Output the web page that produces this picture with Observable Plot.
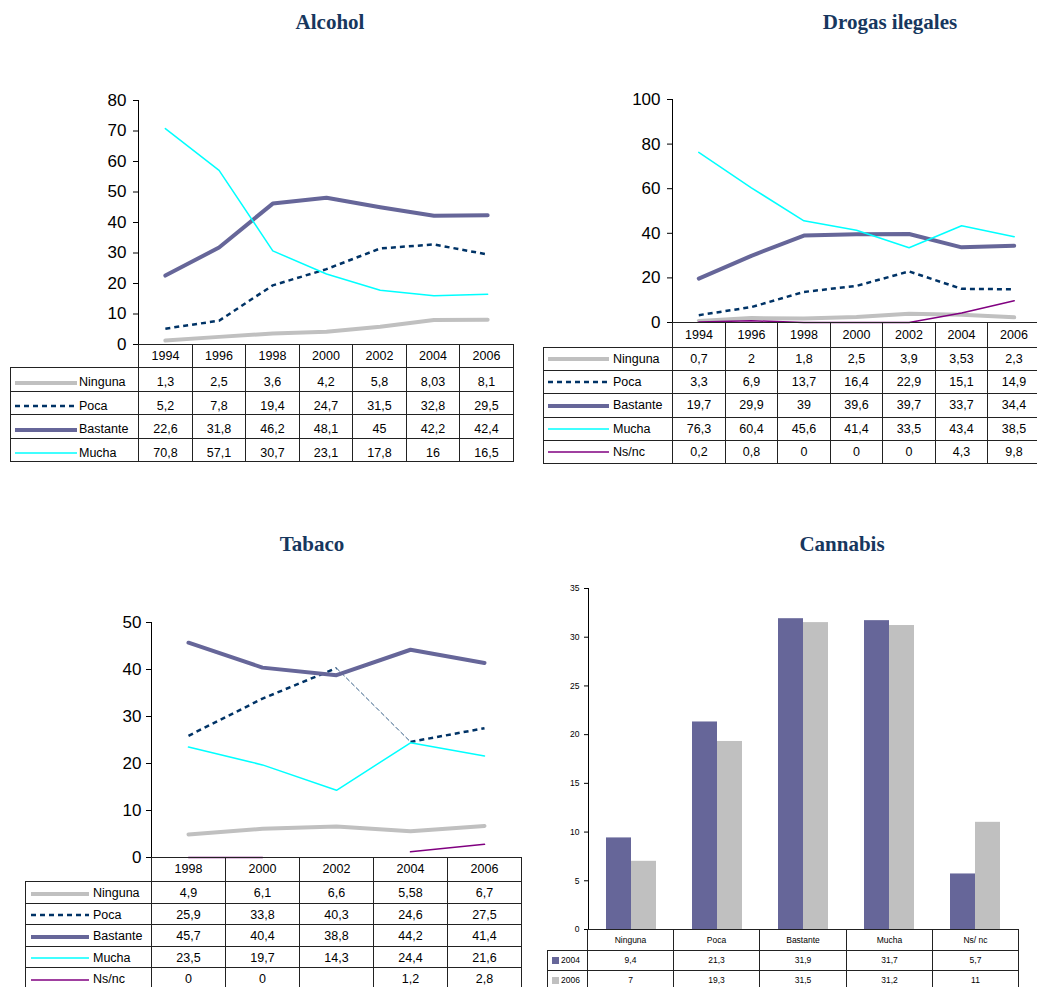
<!DOCTYPE html>
<html><head><meta charset="utf-8">
<script src="https://cdn.jsdelivr.net/npm/d3@7"></script>
<script src="https://cdn.jsdelivr.net/npm/@observablehq/plot@0.6"></script>
<style>
html,body{margin:0;padding:0;background:#fff;}
#root{position:relative;width:1037px;height:987px;overflow:hidden;background:#fff;font-family:'Liberation Sans',Arial,sans-serif;}
.title{position:absolute;width:300px;text-align:center;font-family:'Liberation Serif','Times New Roman',serif;font-weight:bold;font-size:21px;color:#17375e;line-height:24px;}
.cell{position:absolute;box-sizing:border-box;border:1px solid #222;display:flex;align-items:center;justify-content:center;color:#000;white-space:nowrap;line-height:1;}
</style></head><body><div id="root"></div>
<script>
// ---------- DATA ----------
const titles = ["Alcohol", "Drogas ilegales", "Tabaco", "Cannabis"];

const alcYears = [1994, 1996, 1998, 2000, 2002, 2004, 2006];
const alcNinguna = [1.3, 2.5, 3.6, 4.2, 5.8, 8.03, 8.1];
const alcPoca = [5.2, 7.8, 19.4, 24.7, 31.5, 32.8, 29.5];
const alcBastante = [22.6, 31.8, 46.2, 48.1, 45, 42.2, 42.4];
const alcMucha = [70.8, 57.1, 30.7, 23.1, 17.8, 16, 16.5];
const alcTicks = [0, 10, 20, 30, 40, 50, 60, 70, 80];

const drgYears = [1994, 1996, 1998, 2000, 2002, 2004, 2006];
const drgNinguna = [0.7, 2, 1.8, 2.5, 3.9, 3.53, 2.3];
const drgPoca = [3.3, 6.9, 13.7, 16.4, 22.9, 15.1, 14.9];
const drgBastante = [19.7, 29.9, 39, 39.6, 39.7, 33.7, 34.4];
const drgMucha = [76.3, 60.4, 45.6, 41.4, 33.5, 43.4, 38.5];
const drgNsnc = [0.2, 0.8, 0, 0, 0, 4.3, 9.8];
const drgTicks = [0, 20, 40, 60, 80, 100];

const tabYears = [1998, 2000, 2002, 2004, 2006];
const tabNinguna = [4.9, 6.1, 6.6, 5.58, 6.7];
const tabPoca = [25.9, 33.8, 40.3, 24.6, 27.5];
const tabBastante = [45.7, 40.4, 38.8, 44.2, 41.4];
const tabMucha = [23.5, 19.7, 14.3, 24.4, 21.6];
const tabNsnc = [0, 0, null, 1.2, 2.8];
const tabTicks = [0, 10, 20, 30, 40, 50];

const cannCats = ["Ninguna", "Poca", "Bastante", "Mucha", "Ns/ nc"];
const cannYears = ["2004", "2006"];
const cann2004 = [9.4, 21.3, 31.9, 31.7, 5.7];
const cann2006 = [7, 19.3, 31.5, 31.2, 11];
const cannTicks = [0, 5, 10, 15, 20, 25, 30, 35];

// ---------- STYLES ----------
const lineStyles = {
  "Ninguna": {stroke: "#c0c0c0", strokeWidth: 4},
  "Poca": {stroke: "#003366", strokeWidth: 2.5, strokeDasharray: "5,4", strokeLinecap: "butt"},
  "Bastante": {stroke: "#666699", strokeWidth: 4},
  "Mucha": {stroke: "#00ffff", strokeWidth: 1.5},
  "Ns/nc": {stroke: "#800080", strokeWidth: 1.5}
};
const barColors = ["#666699", "#c0c0c0"];

const root = document.getElementById("root");

function addTitle(text, cx, cy) {
  const d = document.createElement("div");
  d.className = "title";
  d.textContent = text;
  d.style.left = (cx - 150) + "px";
  d.style.top = (cy - 12) + "px";
  root.appendChild(d);
}

function place(svg, left, top) {
  svg.style.position = "absolute";
  svg.style.left = left + "px";
  svg.style.top = top + "px";
  svg.style.maxWidth = "none";
  root.appendChild(svg);
}

function toRows(years, values) {
  return years.map((year, i) => ({year, value: values[i] == null ? NaN : values[i]}));
}

function linePanel(o) {
  const marks = [Plot.ruleY([0], {stroke: "#222", strokeWidth: 1.2})];
  for (const s of o.series) {
    const st = lineStyles[s.name];
    const data = toRows(o.years, s.values);
    if (s.thin) {
      const [a, b] = s.thin;
      marks.push(Plot.line(data.filter(d => d.year <= a), {x: "year", y: "value", ...st}));
      marks.push(Plot.line(data.filter(d => d.year >= b), {x: "year", y: "value", ...st}));
      marks.push(Plot.line(data.filter(d => d.year >= a && d.year <= b), {x: "year", y: "value", stroke: st.stroke, strokeWidth: 0.8, strokeDasharray: "4,3"}));
    } else {
      marks.push(Plot.line(data, {x: "year", y: "value", ...st}));
    }
  }
  const svg = Plot.plot({
    width: o.width, height: o.height,
    marginLeft: o.mL, marginRight: o.mR, marginTop: o.mT, marginBottom: o.mB,
    x: {type: "linear", domain: [o.years[0] - 1, o.years[o.years.length - 1] + 1], axis: null},
    y: {domain: [0, o.ticks[o.ticks.length - 1]], ticks: o.ticks, tickSize: 5, tickPadding: o.tickPadding, line: true, label: null, tickFormat: d => String(d)},
    style: {fontFamily: "'Liberation Sans', Arial, sans-serif", fontSize: "17px", color: "#000", background: "transparent", overflow: "visible"},
    marks
  });
  place(svg, o.left, o.top);
}

const fmt = v => v == null ? "" : String(v).replace(".", ",");

function cell(x, y, w, h, text, fs, dy) {
  const d = document.createElement("div");
  d.className = "cell";
  d.style.left = x + "px"; d.style.top = y + "px";
  d.style.width = (w + 1) + "px"; d.style.height = (h + 1) + "px";
  d.style.fontSize = fs + "px";
  if (text !== "") {
    const s = document.createElement("span");
    s.style.position = "relative";
    s.style.top = (dy || 0) + "px";
    s.textContent = text;
    d.appendChild(s);
  }
  root.appendChild(d);
  return d;
}

function swatchLine(name, w) {
  const st = lineStyles[name];
  return `<svg width="${w}" height="10" style="position:absolute;left:0;top:-5px;overflow:visible"><line x1="0" x2="${w}" y1="5" y2="5" stroke="${st.stroke}" stroke-width="${st.strokeWidth}" ${st.strokeDasharray ? `stroke-dasharray="${st.strokeDasharray}"` : ""}/></svg>`;
}

function drawTable(o) {
  const dy = o.dy || 0;
  const xs = i => Math.round(o.left + o.labelW + i * o.colW);
  o.headers.forEach((h, i) => cell(xs(i), o.top, xs(i + 1) - xs(i), o.headerH, String(h), o.fs, 0));
  o.rows.forEach((r, j) => {
    const y = Math.round(o.top + o.headerH + j * o.rowH);
    const y2 = Math.round(o.top + o.headerH + (j + 1) * o.rowH);
    const lc = cell(o.left, y, xs(0) - o.left, y2 - y, "", o.fs, 0);
    lc.style.justifyContent = "flex-start";
    const inner = document.createElement("div");
    inner.style.position = "absolute";
    inner.style.left = o.swX + "px";
    inner.style.top = `calc(50% + ${dy}px)`;
    if (r.color) {
      inner.innerHTML = `<div style="position:absolute;left:0;top:-3.5px;width:7px;height:7px;background:${r.color}"></div>`;
    } else {
      inner.innerHTML = swatchLine(r.name, o.swW);
    }
    lc.appendChild(inner);
    const t = document.createElement("span");
    t.style.position = "absolute";
    t.style.left = o.textX + "px";
    t.style.transform = `translateY(${dy}px)`;
    t.textContent = r.label || r.name;
    lc.appendChild(t);
    r.values.forEach((v, i) => cell(xs(i), y, xs(i + 1) - xs(i), y2 - y, fmt(v), o.fs, dy));
  });
}

// ---------- ALCOHOL ----------
addTitle(titles[0], 330, 22);
const alcSeries = [
  {name: "Ninguna", values: alcNinguna}, {name: "Poca", values: alcPoca},
  {name: "Bastante", values: alcBastante}, {name: "Mucha", values: alcMucha}];
linePanel({years: alcYears, series: alcSeries, ticks: alcTicks, left: 0, top: 0, width: 530, height: 352,
  mL: 138, mR: 16, mT: 100, mB: 8, tickPadding: 7});
drawTable({left: 10, top: 344, labelW: 128, colW: 375 / 7, headerH: 23, rowH: 23.5, fs: 12.5, swX: 4, swW: 62, textX: 68, dy: 3,
  headers: alcYears, rows: alcSeries});

// ---------- DROGAS ----------
addTitle(titles[1], 890, 22);
const drgSeries = [
  {name: "Ninguna", values: drgNinguna}, {name: "Poca", values: drgPoca},
  {name: "Bastante", values: drgBastante}, {name: "Mucha", values: drgMucha},
  {name: "Ns/nc", values: drgNsnc}];
linePanel({years: drgYears, series: drgSeries, ticks: drgTicks, left: 540, top: 0, width: 500, height: 330,
  mL: 132, mR: 0, mT: 99, mB: 8, tickPadding: 7});
drawTable({left: 543, top: 322, labelW: 129, colW: 368 / 7, headerH: 25, rowH: 23.2, fs: 12.5, swX: 4, swW: 61, textX: 69,
  headers: drgYears, rows: drgSeries});

// ---------- TABACO ----------
addTitle(titles[2], 312, 544);
const tabSeries = [
  {name: "Ninguna", values: tabNinguna}, {name: "Poca", values: tabPoca, thin: [2002, 2004]},
  {name: "Bastante", values: tabBastante}, {name: "Mucha", values: tabMucha},
  {name: "Ns/nc", values: tabNsnc}];
linePanel({years: tabYears, series: tabSeries, ticks: tabTicks, left: 20, top: 560, width: 501, height: 305,
  mL: 131, mR: 0, mT: 62, mB: 8, tickPadding: 5});
drawTable({left: 25, top: 857, labelW: 126, colW: 74, headerH: 24, rowH: 21.6, fs: 12.5, swX: 5, swW: 58, textX: 67, dy: 1,
  headers: tabYears, rows: tabSeries});

// ---------- CANNABIS ----------
addTitle(titles[3], 842, 544);
const cannData = cannCats.flatMap((cat, i) => [
  {cat, year: cannYears[0], value: cann2004[i]},
  {cat, year: cannYears[1], value: cann2006[i]}]);
const cannSvg = Plot.plot({
  width: 480, height: 367, marginLeft: 47, marginRight: 2, marginTop: 18, marginBottom: 8,
  facet: {data: cannData, x: "cat"},
  fx: {domain: cannCats, padding: 0, axis: null, label: null},
  x: {domain: cannYears, paddingInner: 0, paddingOuter: 0.72, axis: null},
  y: {domain: [0, 35], ticks: cannTicks, tickSize: 4, tickPadding: 5, line: true, label: null},
  color: {domain: cannYears, range: barColors},
  style: {fontFamily: "'Liberation Sans', Arial, sans-serif", fontSize: "8.5px", color: "#000", background: "transparent", overflow: "visible"},
  marks: [
    Plot.barY(cannData, {x: "year", y: "value", fill: "year"}),
    Plot.ruleY([0], {stroke: "#000", strokeWidth: 1.2})
  ]
});
place(cannSvg, 540, 570);
drawTable({left: 547, top: 929, labelW: 40, colW: 86.2, headerH: 21, rowH: 20, fs: 8.5, swX: 4, swW: 7, textX: 13,
  headers: cannCats,
  rows: [
    {name: cannYears[0], values: cann2004, color: barColors[0]},
    {name: cannYears[1], values: cann2006, color: barColors[1]}]});
</script></body></html>
